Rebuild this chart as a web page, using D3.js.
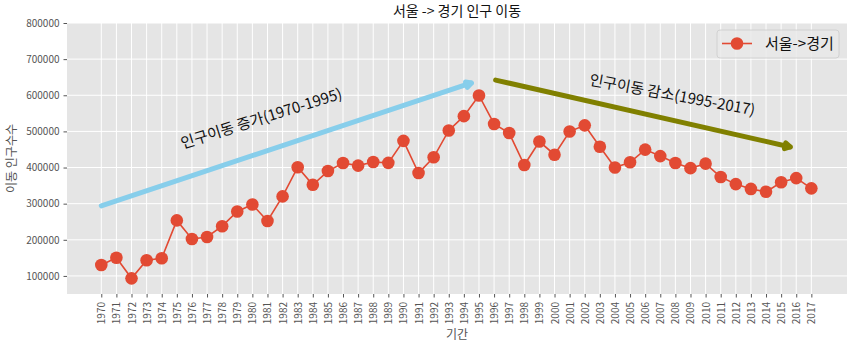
<!DOCTYPE html>
<html><head><meta charset="utf-8">
<script src="https://cdn.jsdelivr.net/npm/d3@7/dist/d3.min.js"></script>
<style>body{margin:0;background:#fff;} svg{display:block;}</style>
</head><body>
<script>
const years = ["1970","1971","1972","1973","1974","1975","1976","1977","1978","1979","1980","1981","1982","1983","1984","1985","1986","1987","1988","1989","1990","1991","1992","1993","1994","1995","1996","1997","1998","1999","2000","2001","2002","2003","2004","2005","2006","2007","2008","2009","2010","2011","2012","2013","2014","2015","2016","2017"];
const moves = [130149,150313,93333,143234,149045,253705,202276,207722,237684,278411,297539,252073,320174,400875,352238,390265,412535,405220,415174,412933,473889,384714,428344,502584,542204,599411,520566,495454,407050,471841,435573,499575,516765,457656,400206,414621,449632,431637,412408,398282,410735,373771,354135,340801,332785,359337,370760,342433];
const yTicks = [100000,200000,300000,400000,500000,600000,700000,800000];
const seriesName = "서울->경기";
const title = "서울 -> 경기 인구 이동";
const xLabel = "기간";
const yLabel = "이동 인구수수";
// annotation arrows in data coords: [x index, value]
const arrowUp = [[0, 294000],[24.5, 634000]];
const arrowDown = [[26.1, 642000],[45.6, 457000]];
const textUp = {label:"인구이동 증가(1970-1995)", at:[10.6, 536000], rot:-17.5};
const textDown = {label:"인구이동 감소(1995-2017)", at:[37.8, 601000], rot:10.5};

const W=853,H=348, L=67,R=847,T=23,B=294;
const font = "'Noto Sans CJK KR','Noto Sans',sans-serif";
const svg = d3.select("body").append("svg").attr("width",W).attr("height",H).style("font-family",font);
const x = d3.scaleLinear().domain([-2.27,49.36]).range([L,R]);
const y = d3.scaleLinear().domain([50000,800000]).range([B,T]);

svg.append("rect").attr("x",L).attr("y",T).attr("width",R-L).attr("height",B-T).attr("fill","#E5E5E5");
// grid
const g = svg.append("g");
g.selectAll(".gx").data(years).enter().append("line")
  .attr("x1",(d,i)=>x(i)).attr("x2",(d,i)=>x(i)).attr("y1",T).attr("y2",B)
  .attr("stroke","#fff").attr("stroke-width",1);
g.selectAll(".gy").data(yTicks).enter().append("line")
  .attr("x1",L).attr("x2",R).attr("y1",d=>y(d)).attr("y2",d=>y(d))
  .attr("stroke","#fff").attr("stroke-width",1);

// axes
const xAxis = d3.axisBottom(x).tickValues(d3.range(years.length)).tickFormat(i=>years[i]).tickSize(3.5).tickPadding(3);
const ax = svg.append("g").attr("transform",`translate(0,${B})`).call(xAxis);
ax.select(".domain").remove();
ax.selectAll("line").attr("stroke","#555");
ax.selectAll("text").attr("fill","#555").style("font-size","10px").style("font-family",font)
  .attr("transform","rotate(-90)").attr("text-anchor","end").attr("x",-8).attr("y",0).attr("dy","0.35em");

const yAxis = d3.axisLeft(y).tickValues(yTicks).tickFormat(d=>String(d)).tickSize(3.5).tickPadding(4);
const ay = svg.append("g").attr("transform",`translate(${L},0)`).call(yAxis);
ay.select(".domain").remove();
ay.selectAll("line").attr("stroke","#555");
ay.selectAll("text").attr("fill","#555").style("font-size","10px").style("font-family",font);

// labels
svg.append("text").attr("x",(L+R)/2).attr("y",16).attr("text-anchor","middle").style("font-size","14px").attr("fill","#111").text(title);
svg.append("text").attr("x",(L+R)/2).attr("y",339).attr("text-anchor","middle").style("font-size","12px").attr("fill","#555").text(xLabel);
svg.append("text").attr("transform",`translate(16,${(T+B)/2}) rotate(-90)`).attr("text-anchor","middle").style("font-size","12px").attr("fill","#555").text(yLabel);

// arrows
function arrow(pts,color){
  const [p0,p1]=pts;
  const x0=x(p0[0]),y0=y(p0[1]),x1=x(p1[0]),y1=y(p1[1]);
  const a=Math.atan2(y1-y0,x1-x0), hl=6, ha=0.5;
  svg.append("line").attr("x1",x0).attr("y1",y0).attr("x2",x1).attr("y2",y1)
    .attr("stroke",color).attr("stroke-width",5).attr("stroke-linecap","round");
  const p = d3.path();
  p.moveTo(x1-hl*Math.cos(a-ha),y1-hl*Math.sin(a-ha)); p.lineTo(x1,y1); p.lineTo(x1-hl*Math.cos(a+ha),y1-hl*Math.sin(a+ha));
  svg.append("path").attr("d",p.toString()).attr("fill","none").attr("stroke",color).attr("stroke-width",5)
    .attr("stroke-linecap","round").attr("stroke-linejoin","round");
}
arrow(arrowUp,"#87CEEB");
arrow(arrowDown,"#808000");

[textUp,textDown].forEach(t=>{
  svg.append("text").attr("transform",`translate(${x(t.at[0])},${y(t.at[1])}) rotate(${t.rot})`)
    .attr("text-anchor","middle").attr("dy","0.35em").style("font-size","15px").attr("fill","#111").text(t.label);
});

// series
const line = d3.line().x((d,i)=>x(i)).y(d=>y(d));
svg.append("path").datum(moves).attr("d",line).attr("fill","none").attr("stroke","#E24A33").attr("stroke-width",1.6);
svg.selectAll(".pt").data(moves).enter().append("circle")
  .attr("cx",(d,i)=>x(i)).attr("cy",d=>y(d)).attr("r",6.3).attr("fill","#E24A33");

// legend
const lg = svg.append("g");
lg.append("rect").attr("x",717).attr("y",30).attr("width",122).attr("height",28).attr("rx",3)
  .attr("fill","#E8E8E8").attr("fill-opacity",0.8).attr("stroke","#cccccc").attr("stroke-width",0.8);
lg.append("line").attr("x1",722).attr("x2",752).attr("y1",43.5).attr("y2",43.5).attr("stroke","#E24A33").attr("stroke-width",1.6);
lg.append("circle").attr("cx",737).attr("cy",43.5).attr("r",6.3).attr("fill","#E24A33");
lg.append("text").attr("x",765).attr("y",44).attr("dy","0.35em").style("font-size","15px").attr("fill","#111").text(seriesName);
</script>
</body></html>
